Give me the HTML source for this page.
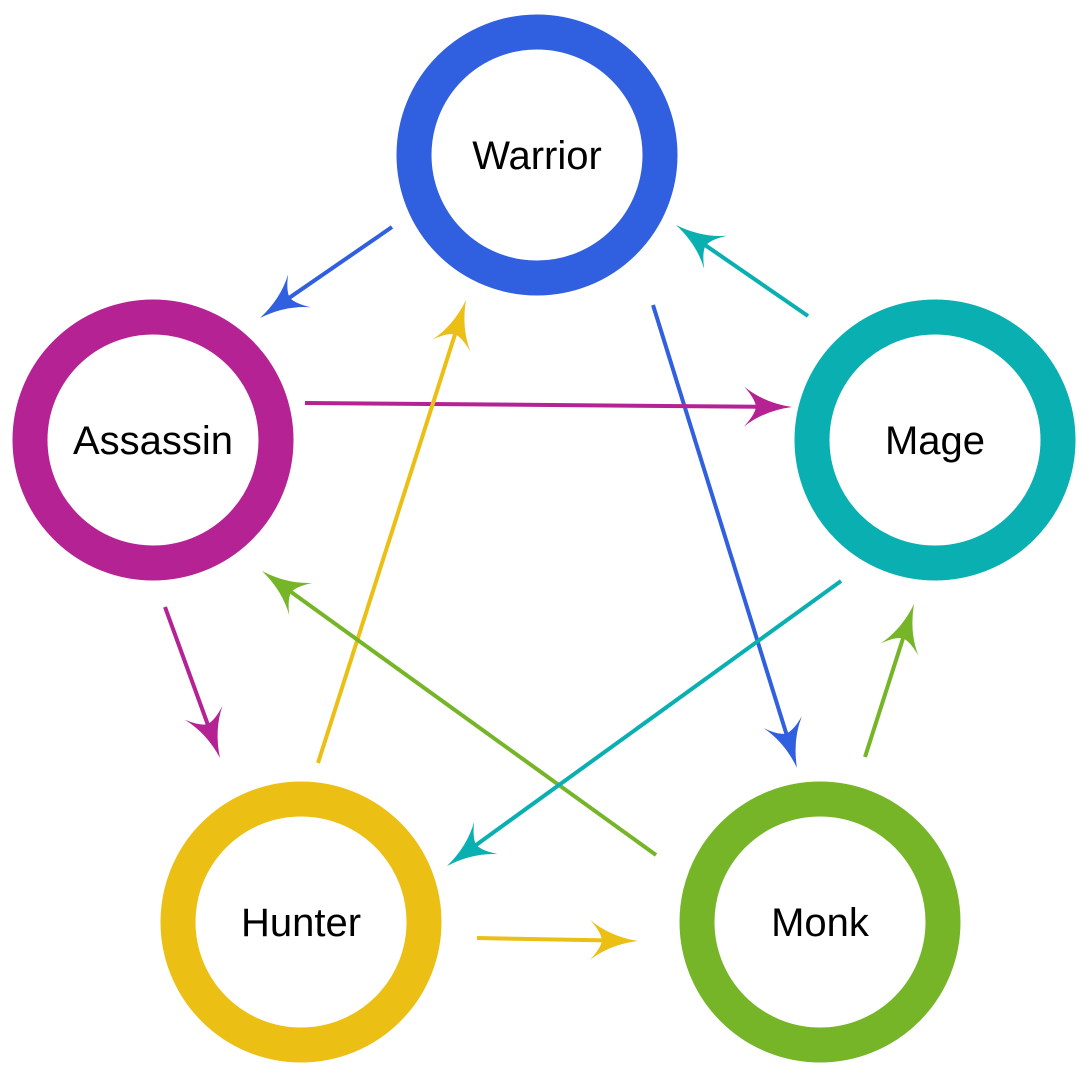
<!DOCTYPE html>
<html><head><meta charset="utf-8"><style>
html,body{margin:0;padding:0;background:#fff;}
svg{display:block;}
text{font-family:"Liberation Sans","DejaVu Sans",sans-serif;font-size:40px;fill:#000;}
</style></head><body>
<svg id="chart" width="1090" height="1087" viewBox="0 0 1090 1087">
<g id="arrows"></g><g id="nodes"></g>
</svg>
<script>
const nodeNames = ["Warrior","Assassin","Mage","Hunter","Monk"];
const nodeX = [537,153,935,301,820];
const nodeY = [155,440,440,922,922];
const nodeColors = ["#3060e0","#b52294","#0aafb2","#ebbf14","#76b528"];
const edgeFrom = [0,2,0,1,3,1,4,2,4,3];
const edgeTo   = [1,0,4,2,0,3,1,3,2,4];
const edgeStartX = [392,808,653,305,318,165,656,841,865,477];
const edgeStartY = [227,316,305,403,763,607,855,581,757,938];
const edgeTipX   = [260,676,797,792,466,220,262,447,914,638];
const edgeTipY   = [318,225,768,407,300,758,571,866,604,941];
const NS="http://www.w3.org/2000/svg";
const nodesG=document.getElementById('nodes'), arrowsG=document.getElementById('arrows');
for(let i=0;i<nodeNames.length;i++){
  const g=document.createElementNS(NS,'g');
  
  
  const c=document.createElementNS(NS,'circle');
  c.setAttribute('cx',nodeX[i]);c.setAttribute('cy',nodeY[i]);c.setAttribute('r',123);
  c.setAttribute('fill','#fff');c.setAttribute('stroke',nodeColors[i]);c.setAttribute('stroke-width',35);
  
  
  g.appendChild(c);
  const t=document.createElementNS(NS,'text');
  t.setAttribute('x',nodeX[i]);t.setAttribute('y',nodeY[i]+14);t.setAttribute('text-anchor','middle');
  t.textContent=nodeNames[i];
  
  
  g.appendChild(t);
  nodesG.appendChild(g);
}
for(let k=0;k<edgeFrom.length;k++){
  const col=nodeColors[edgeFrom[k]];
  const sx=edgeStartX[k],sy=edgeStartY[k],tx=edgeTipX[k],ty=edgeTipY[k];
  const ang=Math.atan2(ty-sy,tx-sx)*180/Math.PI;
  const len=Math.hypot(tx-sx,ty-sy);
  const g=document.createElementNS(NS,'g');
  g.setAttribute('transform',`translate(${tx},${ty}) rotate(${ang})`);
  
  
  const l=document.createElementNS(NS,'line');
  l.setAttribute('x1',-len);l.setAttribute('y1',0);l.setAttribute('x2',-34);l.setAttribute('y2',0);
  l.setAttribute('stroke',col);l.setAttribute('stroke-width',4);
  
  
  g.appendChild(l);
  const p=document.createElementNS(NS,'path');
  p.setAttribute('d','M0,0 Q-28,-4 -48,-20 Q-37,-8 -36,0 Q-37,8 -48,20 Q-28,4 0,0 Z');
  p.setAttribute('fill',col);
  
  
  g.appendChild(p);
  arrowsG.appendChild(g);
}
</script>
</body></html>
